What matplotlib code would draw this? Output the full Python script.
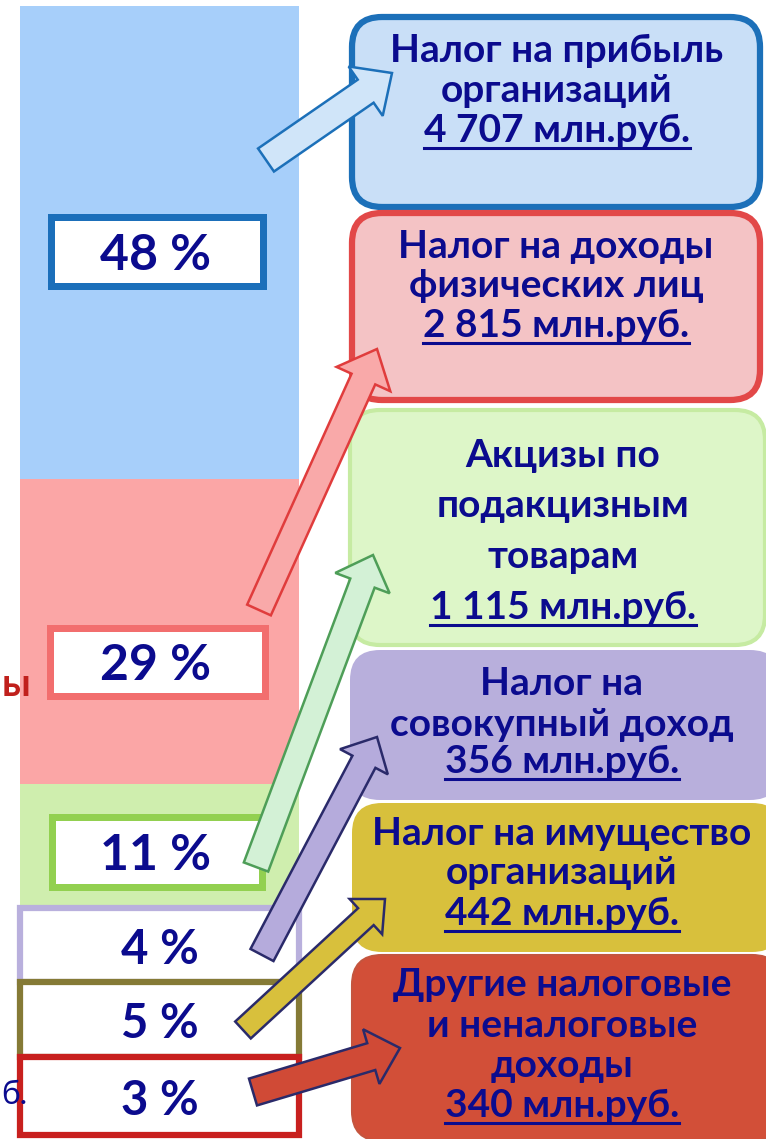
import numpy as np
import matplotlib
matplotlib.use("Agg")
import matplotlib.pyplot as plt
from matplotlib.patches import FancyBboxPatch, Rectangle, FancyArrow
from matplotlib.lines import Line2D
from matplotlib import patheffects as pe
from matplotlib import font_manager as fm
from matplotlib.ft2font import FT2Font

# ---------------- data ----------------
categories = ["Налог на прибыль организаций",
              "Налог на доходы физических лиц",
              "Акцизы по подакцизным товарам",
              "Налог на совокупный доход",
              "Налог на имущество организаций",
              "Другие налоговые и неналоговые доходы"]
shares = [48, 29, 11, 4, 5, 3]                       # %
amounts = ["4 707", "2 815", "1 115", "356", "442", "340"]  # млн.руб.
box_lines = [["Налог на прибыль", "организаций"],
             ["Налог на доходы", "физических лиц"],
             ["Акцизы по", "подакцизным", "товарам"],
             ["Налог на", "совокупный доход"],
             ["Налог на имущество", "организаций"],
             ["Другие налоговые", "и неналоговые", "доходы"]]
unit = "млн.руб."

# ---------------- font choice: a bold face with Cyrillic ----------------
def pick_font():
    prefs = ["Lato", "Open Sans", "Roboto", "Noto Sans", "Liberation Sans", "DejaVu Sans"]
    for fam in prefs:
        for f in fm.fontManager.ttflist:
            w = f.weight if isinstance(f.weight, int) else 700 if "bold" in str(f.weight).lower() else 400
            if f.name == fam and w >= 700 and f.style == "normal":
                try:
                    cmap = FT2Font(f.fname).get_charmap()
                    if ord("Ж") in cmap and ord("й") in cmap:
                        return fam
                except Exception:
                    pass
    return "DejaVu Sans"

FAM = pick_font()
FONT = [FAM, "DejaVu Sans"]
SCALE = {"Lato": 1.0, "Open Sans": 0.9, "Roboto": 0.97, "Noto Sans": 0.9,
         "Liberation Sans": 0.92, "DejaVu Sans": 0.85}.get(FAM, 0.9)

# ---------------- styles / layout ----------------
W, H = 766, 1139
NAVY = "#0b0b8e"
seg_fill = ["#A7CFFA", "#FBA6A6", "#CFEEAE", "white", "white", "white"]
seg_edge = ["none", "none", "none", "#B9B0DD", "#857A36", "#C8201E"]
label_edge = ["#1B6FBA", "#F26E6E", "#92D050"]
seg_px = [473, 305, 124, 74, 75, 78]          # drawn height of each segment (top-down)
label_frac = [0.48, 0.40, 0.45]               # label position inside the big segments
label_box = [(219, 76), (222, 75), (217, 77)]

box_rect = [(352, 17, 408, 190), (352, 213, 408, 187), (350, 410, 415, 235),
            (350, 650, 430, 150), (352, 803, 430, 149), (352, 955, 430, 186)]
box_face = ["#C9DFF7", "#F4C3C5", "#DDF6C8", "#B8AFDC", "#D8C03C", "#D24F38"]
box_edge = ["#1C70B9", "#E24848", "#C6EBA2", "none", "none", "#C4553E"]
box_lw = [4.5, 4.5, 3, 0, 0, 1.5]
text_x = [557, 556, 563, 562, 562, 562]
baselines = [[62, 102, 142], [258, 297, 337], [467, 517, 568, 619],
             [695, 736, 773], [845, 884, 925], [996, 1037, 1077, 1117]]

arrow_geom = [  # tail, tip, body width, head width, head length
    ((266, 160), (392, 73), 28, 60, 32),
    ((259, 610), (377, 349), 26, 59, 33),
    ((256, 867), (373, 555), 26, 58, 30),
    ((262, 955), (377, 737), 26, 54, 28),
    ((243, 1030), (385, 899), 23, 48, 26),
    ((253, 1092), (400, 1048), 28, 57, 30)]
arrow_face = ["#D0E5F9", "#F9A9A9", "#D3F1D6", "#B5ABDC", "#D8C03C", "#D04A36"]
arrow_edge = ["#1C70B9", "#E03C3C", "#4E9E58", "#2A2A6A", "#2A2A6A", "#2A2A6A"]

# ---------------- figure ----------------
fig = plt.figure(figsize=(W / 100, H / 100), dpi=100)
fig.patch.set_facecolor("white")

bar_left, bar_right, bar_top, bar_bottom = 20, 299, 6, 1135
ax = fig.add_axes([bar_left / W, (H - bar_bottom) / H,
                   (bar_right - bar_left) / W, (bar_bottom - bar_top) / H])
ax.set_zorder(1)
ax.axis("off")

vals_up = shares[::-1]
px_up = seg_px[::-1]
knots_v = np.concatenate([[0], np.cumsum(vals_up)]).astype(float)
knots_p = np.concatenate([[0], np.cumsum(px_up)]).astype(float)
fwd = lambda v: np.interp(v, knots_v, knots_p)
inv = lambda p: np.interp(p, knots_p, knots_v)
ax.set_yscale("function", functions=(fwd, inv))
ax.set_xlim(-0.5, 0.5)
ax.set_ylim(0, sum(shares))

bottoms = knots_v[:-1][::-1]   # top-down order
for i, (v, b) in enumerate(zip(shares, bottoms)):
    if i < 3:
        bars = ax.bar(0, v, bottom=b, width=1.0, color=seg_fill[i],
                      edgecolor="none", zorder=2)
        bars[0].set_path_effects([pe.SimplePatchShadow(offset=(3, 0), shadow_rgbFace="#20205a",
                                                       alpha=0.55), pe.Normal()])
    else:
        ax.bar(0, v, bottom=b, width=1.0, color="white", edgecolor=seg_edge[i],
               linewidth=4.5, zorder=3, clip_on=False)

# ---------------- overlay (pixel coords) ----------------
ov = fig.add_axes([0, 0, 1, 1])
ov.set_zorder(2)
ov.patch.set_visible(False)
ov.set_xlim(0, W)
ov.set_ylim(H, 0)
ov.axis("off")

def bar_to_px(yval):
    d = ax.transData.transform((0, yval))
    return ov.transData.inverted().transform(d)

for i, v in enumerate(shares):
    b = bottoms[i]
    if i < 3:
        cx = 157
        _, cy = bar_to_px(b + label_frac[i] * v)
        w, h = label_box[i]
        lw = 7
        ov.add_patch(Rectangle((cx - w / 2 + lw / 2, cy - h / 2 + lw / 2), w - lw, h - lw,
                               facecolor="white", edgecolor=label_edge[i],
                               linewidth=lw * 0.72, zorder=3))
        ov.text(cx - 2, cy + 18, f"{v} %", ha="center", va="baseline", fontsize=36 * SCALE,
                fontweight="bold", color=NAVY, family=FONT, zorder=4)
    else:
        cx = (bar_left + bar_right) / 2
        _, cy = bar_to_px(b + v / 2)
        ov.text(cx, cy + 19, f"{v} %", ha="center", va="baseline", fontsize=34 * SCALE,
                fontweight="bold", color=NAVY, family=FONT, zorder=4)

underline_texts = []
for i in range(6):
    x, y, w, h = box_rect[i]
    ov.add_patch(FancyBboxPatch((x, y), w, h, boxstyle="round,pad=0,rounding_size=30",
                                facecolor=box_face[i], edgecolor=box_edge[i],
                                linewidth=box_lw[i], zorder=1))
    lines = box_lines[i] + [f"{amounts[i]} {unit}"]
    for j, (s, by) in enumerate(zip(lines, baselines[i])):
        t = ov.text(text_x[i], by, s, ha="center", va="baseline", fontsize=28 * SCALE,
                    fontweight="bold", color=NAVY, family=FONT, zorder=5)
        if j == len(lines) - 1:
            underline_texts.append((t, by))

for i, (tail, tip, bw, hw, hl) in enumerate(arrow_geom):
    dx, dy = tip[0] - tail[0], tip[1] - tail[1]
    ov.add_patch(FancyArrow(tail[0], tail[1], dx, dy, width=bw, head_width=hw,
                            head_length=hl, length_includes_head=True,
                            facecolor=arrow_face[i], edgecolor=arrow_edge[i],
                            linewidth=1.8, zorder=6))

# fragments at the left edge
ov.text(30, 696, "ы", ha="right", va="baseline", fontsize=28 * SCALE, fontweight="bold",
        color="#C0201C", family=FONT, zorder=5)
ov.text(27, 1104, "б.", ha="right", va="baseline", fontsize=23 * SCALE,
        color=NAVY, family=FONT, zorder=5)

fig.canvas.draw()
r = fig.canvas.get_renderer()
inv_t = ov.transData.inverted()
for t, by in underline_texts:
    bb = t.get_window_extent(r)
    (x0, _), (x1, _) = inv_t.transform([(bb.x0, bb.y0), (bb.x1, bb.y1)])
    ov.add_line(Line2D([x0, x1], [by + 6, by + 6], color=NAVY, linewidth=2.2, zorder=5))

fig.savefig("out.png", dpi=100, facecolor="white")
